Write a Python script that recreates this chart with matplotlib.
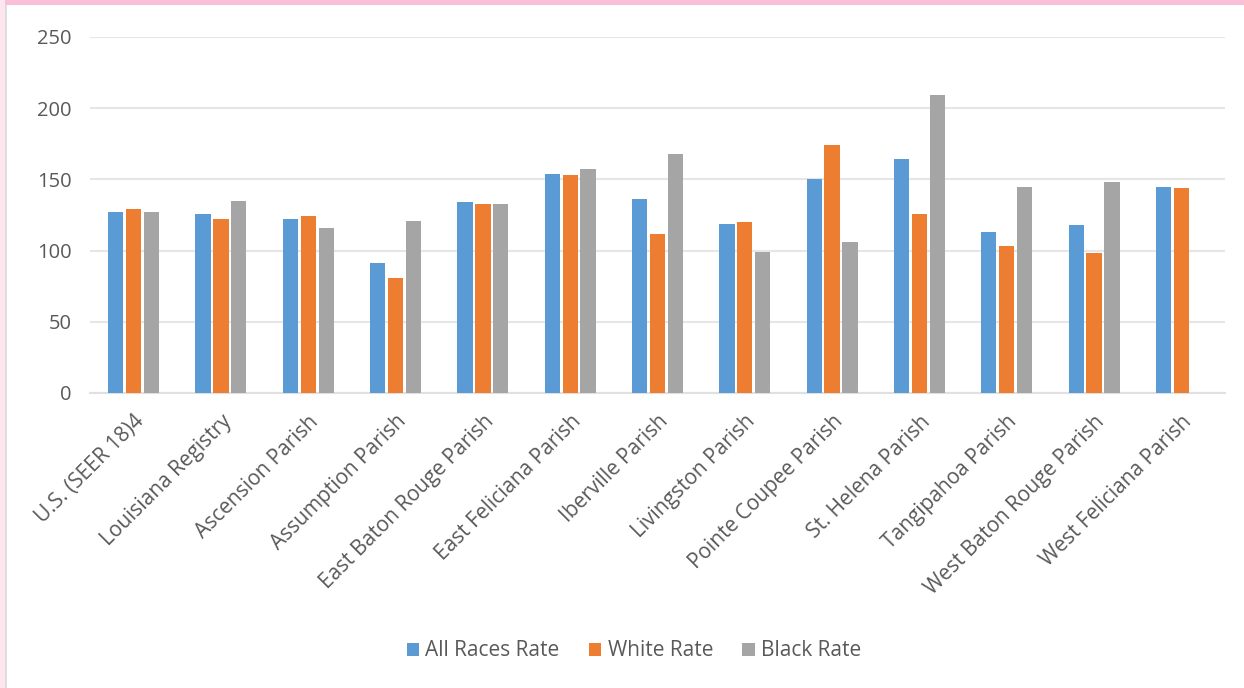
import matplotlib
matplotlib.use("Agg")
import matplotlib.pyplot as plt
import numpy as np
from matplotlib.patches import Rectangle

categories = ["U.S. (SEER 18)4", "Louisiana Registry", "Ascension Parish", "Assumption Parish",
              "East Baton Rouge Parish", "East Feliciana Parish", "Iberville Parish",
              "Livingston Parish", "Pointe Coupee Parish", "St. Helena Parish",
              "Tangipahoa Parish", "West Baton Rouge Parish", "West Feliciana Parish"]
all_races = [127, 126, 122, 91, 134, 154, 136, 119, 150, 164, 113, 118, 145]
white = [129, 122, 124, 81, 133, 153, 112, 120, 174, 126, 103, 98, 144]
black = [127, 135, 116, 121, 133, 157, 168, 99, 106, 209, 145, 148, np.nan]
yticks = [0, 50, 100, 150, 200, 250]
series_names = ["All Races Rate", "White Rate", "Black Rate"]
colors = ["#5B9BD5", "#ED7D31", "#A5A5A5"]

plt.rcParams['font.family'] = ['Open Sans', 'DejaVu Sans']

fig = plt.figure(figsize=(12.44, 6.88), dpi=100)
fig.patch.set_facecolor("white")
# pink frame
fig.add_artist(Rectangle((0, 1 - 5/688), 1, 5/688, transform=fig.transFigure,
                         facecolor="#F7BFD8", edgecolor="none"))
fig.add_artist(Rectangle((0, 0), 5/1244, 1, transform=fig.transFigure,
                         facecolor="#FDE6EF", edgecolor="none"))
fig.add_artist(Rectangle((5/1244, 0), 2/1244, 1 - 5/688, transform=fig.transFigure,
                         facecolor="#DDDDDD", edgecolor="none"))

ax = fig.add_axes([90/1244, 1 - 393/688, (1225 - 90)/1244, (393 - 37)/688])
x = np.arange(len(categories))
w = 0.175
offs = [-0.205, 0, 0.205]
for vals, off, c, name in zip([all_races, white, black], offs, colors, series_names):
    ax.bar(x + off, vals, width=w, color=c, label=name, zorder=3)

ax.set_xlim(-0.5, len(categories) - 0.5)
ax.set_ylim(0, 250)
ax.set_yticks(yticks)
ax.set_yticklabels([str(t) for t in yticks])
ax.grid(axis="y", color="#E6E6E6", linewidth=1.5, zorder=0)
for s in ["top", "right", "left"]:
    ax.spines[s].set_visible(False)
ax.spines["bottom"].set_color("#E0E0E0")
ax.spines["bottom"].set_linewidth(1.5)
ax.tick_params(axis="both", length=0, colors="#595959")
ax.tick_params(axis="y", pad=13, labelsize=14.5)
ax.set_xticks(x)
ax.set_xticklabels(categories, rotation=45, ha="right", rotation_mode="anchor")
ax.tick_params(axis="x", pad=13, labelsize=15)

leg = fig.legend(loc="center", bbox_to_anchor=(634/1244, 1 - 651/688), ncol=3,
                 frameon=False, fontsize=15, handlelength=0.6, handleheight=0.6,
                 handletextpad=0.3, columnspacing=1.4)
for t in leg.get_texts():
    t.set_color("#595959")

fig.savefig("out.png", dpi=100, facecolor="white")
